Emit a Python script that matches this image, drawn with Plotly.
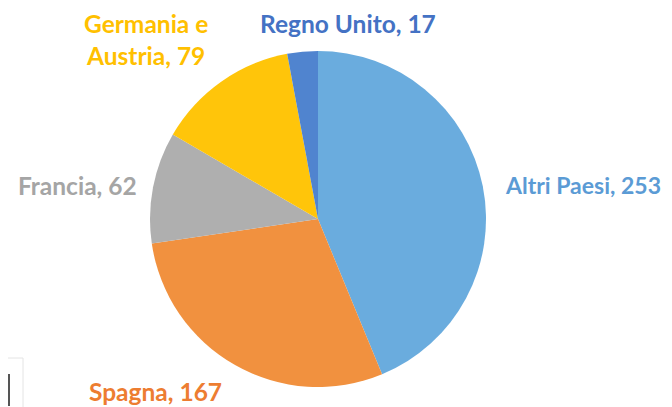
import plotly.graph_objects as go

categories = ["Altri Paesi", "Spagna", "Francia", "Germania e Austria", "Regno Unito"]
values = [253, 167, 62, 79, 17]
slice_colors = ["#6AACDE", "#F1913F", "#AFAFAF", "#FFC50A", "#5084CF"]
label_texts = ["Altri Paesi, 253", "Spagna, 167", "Francia, 62", "Germania e<br>Austria, 79", "Regno Unito, 17"]
label_colors = ["#5B9BD5", "#ED7D31", "#A5A5A5", "#FFC000", "#4472C4"]
label_sizes = [23, 24.5, 24.5, 24.5, 24.5]

W, H = 672, 407
cx, cy, r = 310, 211, 168

fig = go.Figure(go.Pie(
    labels=categories, values=values, sort=False, direction="clockwise", rotation=0,
    marker=dict(colors=slice_colors, line=dict(width=0)),
    textinfo="none", hoverinfo="label+value", showlegend=False,
    domain=dict(x=[(cx - r) / W, (cx + r) / W], y=[1 - (cy + r) / H, 1 - (cy - r) / H]),
))

label_pos = [(575, 177), (147, 383), (69, 177), (138, 32), (340, 16)]
for txt, col, sz, (px, py) in zip(label_texts, label_colors, label_sizes, label_pos):
    fig.add_annotation(x=px / W, y=1 - py / H, xref="paper", yref="paper", text="<b>" + txt + "</b>",
                       showarrow=False, font=dict(family="Lato, Open Sans, sans-serif", size=sz, color=col),
                       xanchor="center", yanchor="middle", align="center")

# small artifact at bottom-left corner
fig.add_shape(type="rect", xref="paper", yref="paper", x0=-0.01, x1=15 / W, y0=-0.01, y1=1 - 350 / H,
              line=dict(color="#E4E4E4", width=1), fillcolor="white")
fig.add_shape(type="line", xref="paper", yref="paper", x0=1 / W, x1=1 / W, y0=1 - 398 / H, y1=1 - 366 / H,
              line=dict(color="#555555", width=2))

fig.update_layout(width=W, height=H, margin=dict(l=0, r=0, t=0, b=0),
                  paper_bgcolor="white", plot_bgcolor="white")
fig.write_html("out.html")
